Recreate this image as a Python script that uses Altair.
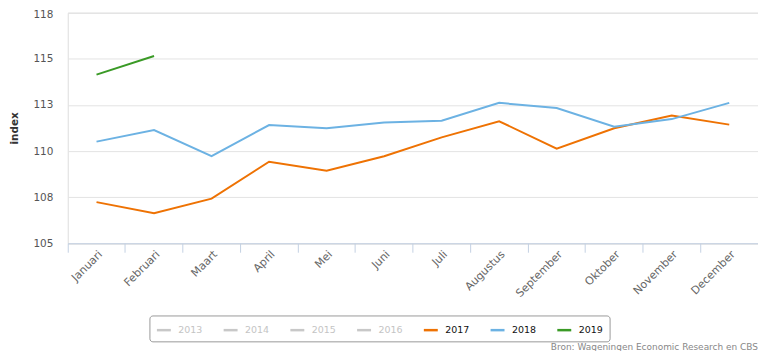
import altair as alt
import pandas as pd

months = ["Januari", "Februari", "Maart", "April", "Mei", "Juni", "Juli",
          "Augustus", "September", "Oktober", "November", "December"]
years = ["2013", "2014", "2015", "2016", "2017", "2018", "2019"]
year_colors = ["#c8c8c8", "#c8c8c8", "#c8c8c8", "#c8c8c8",
               "#ee7203", "#6cb2e3", "#3a9a26"]

v2017 = [107.23, 106.63, 107.42, 109.42, 108.93, 109.72, 110.74,
         111.61, 110.13, 111.23, 111.93, 111.43]
v2018 = [110.51, 111.14, 109.72, 111.41, 111.23, 111.54, 111.64,
         112.61, 112.33, 111.32, 111.73, 112.61]
v2019 = [114.14, 115.15]

y_ticks = [105, 107.5, 110, 112.5, 115, 117.5]
source_text = "Bron: Wageningen Economic Research en CBS"

rows = []
for yr, vals in (("2017", v2017), ("2018", v2018), ("2019", v2019)):
    for m, v in zip(months, vals):
        rows.append({"maand": m, "jaar": yr, "index": v})
df = pd.DataFrame(rows)

font = "DejaVu Sans"

chart = alt.Chart(df).mark_line(strokeWidth=2).encode(
    x=alt.X(
        "maand:N",
        sort=months,
        bandPosition=0.5,
        scale=alt.Scale(type="band", domain=months, paddingInner=0, paddingOuter=0),
        axis=alt.Axis(
            title=None,
            bandPosition=0,
            labelAngle=-45,
            labelColor="#666666",
            labelFontSize=11,
            labelFont=font,
            labelPadding=-4,
            domainColor="#c4d1e3",
            tickColor="#c4d1e3",
            tickSize=9,
            grid=False,
        ),
    ),
    y=alt.Y(
        "index:Q",
        scale=alt.Scale(domain=[105, 117.5], nice=False, zero=False),
        axis=alt.Axis(
            title="index",
            values=y_ticks,
            format=".0f",
            domain=False,
            ticks=False,
            gridColor="#e3e3e3",
            labelColor="#555555",
            labelFontSize=10.5,
            labelFont=font,
            labelPadding=15,
            labelOffset=alt.ExprRef("datum.value >= 117.5 ? 2 : 0"),
            titleFont=font,
            titleFontSize=10.5,
            titleFontWeight="bold",
            titleColor="#333333",
            titlePadding=13,
        ),
    ),
    color=alt.Color(
        "jaar:N",
        scale=alt.Scale(domain=years, range=year_colors),
        legend=alt.Legend(
            title=None,
            orient="none",
            direction="horizontal",
            legendX=82,
            legendY=304,
            padding=6,
            strokeColor="#999999",
            cornerRadius=3,
            fillColor="#ffffff",
            symbolType="stroke",
            symbolSize=196,
            symbolStrokeWidth=2.5,
            labelFont=font,
            labelFontSize=9.5,
            labelOffset=6,
            columnPadding=15,
            labelColor=alt.ExprRef(
                "indexof(['2013','2014','2015','2016'], datum.label) >= 0 ? '#c4c4c4' : '#111111'"
            ),
        ),
    ),
).properties(
    width=693,
    height=231.5,
    autosize=alt.AutoSizeParams(type="none"),
    padding={"left": 60, "top": 4, "right": 0, "bottom": 107.5},
    title=alt.TitleParams(
        source_text,
        orient="bottom",
        anchor="end",
        baseline="top",
        fontSize=9,
        fontWeight="normal",
        color="#888888",
        font=font,
        offset=1,
    ),
).configure_view(stroke=None).configure(background="#ffffff")

chart.save("out.html", embed_options={"renderer": "svg", "actions": False})
